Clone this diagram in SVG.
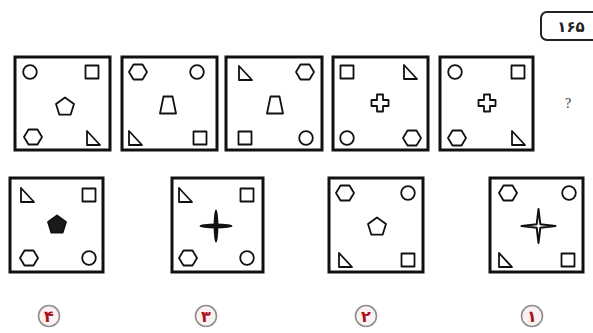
<svg xmlns="http://www.w3.org/2000/svg" xmlns:xlink="http://www.w3.org/1999/xlink" width="593" height="333" viewBox="0 0 593 333">
<style>
.box{fill:#fff;stroke:#111;stroke-width:3}
.s{fill:#fff;stroke:#111;stroke-width:1.8;stroke-linejoin:round}
.lbl{fill:#fbf1f1;stroke:#8f8f8f;stroke-width:1.6}
.num{font-family:"DejaVu Sans",sans-serif;font-weight:bold;font-size:16px;fill:#a8121c;text-anchor:middle}
</style>
<defs>
<circle id="ci" r="6.8" class="s"/>
<rect id="sq" x="-6.5" y="-6.5" width="13" height="13" class="s"/>
<polygon id="hx" points="-9,0 -4.5,-7.5 4.5,-7.5 9,0 4.5,7.5 -4.5,7.5" class="s"/>
<polygon id="tr" points="-6,-7 -6,7 7,7" class="s"/>
<polygon id="pe" points="0,-9.5 9,-2.9 5.6,7.7 -5.6,7.7 -9,-2.9" class="s"/>
<polygon id="tz" points="-4.5,-8.5 4.5,-8.5 8,8.5 -8,8.5" class="s"/>
<path id="cr" d="M-3,-8.5H3V-3H8.5V3H3V8.5H-3V3H-8.5V-3H-3Z" class="s"/>
</defs>
<rect width="593" height="333" fill="#fff"/>
<g id="title">
<rect x="541" y="12" width="60" height="28" rx="6" fill="#fff" stroke="#222" stroke-width="2"/>
<text x="571" y="32" font-family="DejaVu Sans,sans-serif" font-weight="bold" font-size="15" fill="#222" text-anchor="middle">۱۶۵</text>
</g>
<g id="q1">
<rect class="box" x="15" y="57" width="95" height="93"/>
<use href="#ci" x="30" y="72"/><use href="#sq" x="92" y="72"/><use href="#pe" x="65" y="107"/><use href="#hx" x="33" y="137"/><use href="#tr" x="93" y="138"/>
</g>
<g id="q2">
<rect class="box" x="122" y="57" width="95" height="93"/>
<use href="#hx" x="138" y="72"/><use href="#ci" x="197" y="72"/><use href="#tz" x="168" y="105"/><use href="#tr" x="135" y="138"/><use href="#sq" x="200" y="138"/>
</g>
<g id="q3">
<rect class="box" x="226" y="57" width="96" height="93"/>
<use href="#tr" x="245" y="73"/><use href="#hx" x="305" y="72"/><use href="#tz" x="275" y="105"/><use href="#sq" x="245" y="138"/><use href="#ci" x="306" y="138"/>
</g>
<g id="q4">
<rect class="box" x="333" y="57" width="95" height="93"/>
<use href="#sq" x="347" y="72"/><use href="#tr" x="410" y="72"/><use href="#cr" x="380" y="103"/><use href="#ci" x="347" y="138"/><use href="#hx" x="412" y="138"/>
</g>
<g id="q5">
<rect class="box" x="440" y="57" width="93" height="93"/>
<use href="#ci" x="455" y="72"/><use href="#sq" x="518" y="72"/><use href="#cr" x="487" y="103"/><use href="#hx" x="457" y="138"/><use href="#tr" x="518" y="138"/>
</g>
<g id="qmark"><text x="568" y="108" font-family="Liberation Serif,serif" font-size="14" fill="#333" text-anchor="middle">?</text></g>
<g id="opt4">
<rect class="box" x="10" y="178" width="93" height="94"/>
<use href="#tr" x="27" y="195"/><use href="#sq" x="89" y="195"/>
<polygon points="57,215.5 66,222.1 62.6,232.7 51.4,232.7 48,222.1" fill="#1a1a1a" stroke="#111" stroke-width="1.8" stroke-linejoin="round"/>
<use href="#hx" x="29" y="258"/><use href="#ci" x="89" y="258"/>
</g>
<g id="opt3">
<rect class="box" x="172" y="178" width="91" height="94"/>
<use href="#tr" x="185" y="195"/><use href="#sq" x="247" y="195"/>
<ellipse cx="216" cy="226" rx="16.5" ry="2.4" fill="#111"/>
<ellipse cx="216" cy="226" rx="2.4" ry="16.5" fill="#111"/>
<use href="#hx" x="188" y="258"/><use href="#ci" x="247" y="258"/>
</g>
<g id="opt2">
<rect class="box" x="329" y="178" width="94" height="94"/>
<use href="#hx" x="345" y="193"/><use href="#ci" x="408" y="193"/><use href="#pe" x="377" y="227"/><use href="#tr" x="345" y="260"/><use href="#sq" x="408" y="260"/>
</g>
<g id="opt1">
<rect class="box" x="490" y="178" width="93" height="94"/>
<use href="#hx" x="508" y="193"/><use href="#ci" x="569" y="193"/>
<polygon points="538.5,209 540.3,224.2 555.5,226 540.3,227.8 538.5,243 536.7,227.8 521.5,226 536.7,224.2" fill="#fff" stroke="#111" stroke-width="2" stroke-linejoin="round"/>
<use href="#tr" x="505" y="260"/><use href="#sq" x="568" y="260"/>
</g>
<g id="labels">
<circle class="lbl" cx="49" cy="316" r="10.5"/><text class="num" x="49" y="322">۴</text>
<circle class="lbl" cx="206" cy="316" r="10.5"/><text class="num" x="206" y="322">۳</text>
<circle class="lbl" cx="366" cy="316" r="10.5"/><text class="num" x="366" y="322">۲</text>
<circle class="lbl" cx="532" cy="316" r="10.5"/><text class="num" x="532" y="322">۱</text>
</g>
</svg>
